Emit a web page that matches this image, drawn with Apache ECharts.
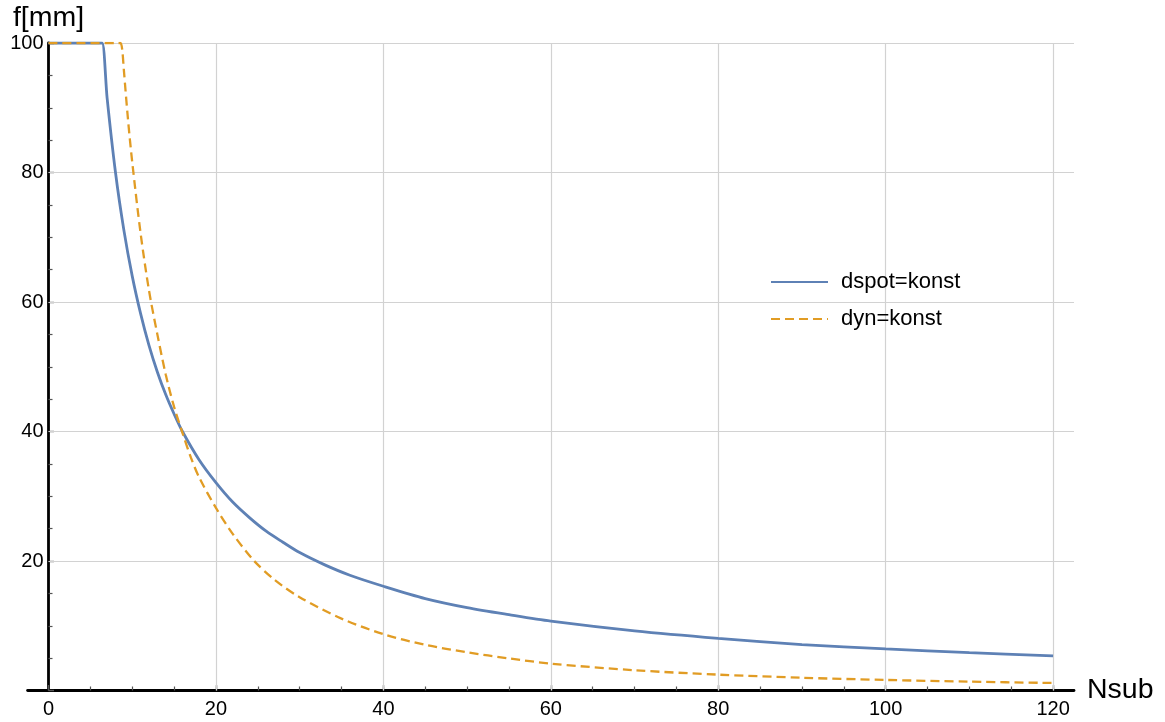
<!DOCTYPE html>
<html>
<head>
<meta charset="utf-8">
<script src="https://cdn.jsdelivr.net/npm/echarts@6/dist/echarts.min.js"></script>
<style>
  html, body { margin: 0; padding: 0; background: #ffffff; }
  #chart { width: 1165px; height: 722px; }
</style>
</head>
<body>
<div id="chart"></div>
<script>
// Focal length f [mm] against number of sub-apertures Nsub
const dspotN = [0, 6.0, 6.4, 7, 8, 9, 10, 11, 12, 13, 14, 15, 16, 18, 20, 22, 24, 26, 28, 30, 33, 36, 40, 45, 50, 55, 60, 70, 80, 90, 100, 110, 120];
const dspotF = [100, 100, 100, 91.5, 80, 71.1, 64, 58.2, 53.3, 49.2, 45.7, 42.7, 40, 35.6, 32.1, 29.1, 26.7, 24.6, 22.9, 21.3, 19.4, 17.8, 16.1, 14.2, 12.8, 11.7, 10.7, 9.2, 8.05, 7.1, 6.42, 5.85, 5.35];

const dynN = [0, 8.3, 8.6, 8.8, 9, 9.5, 10, 11, 12, 13, 14, 15, 16, 17, 18, 20, 22, 24.5, 27, 30, 35, 40, 45, 50, 55, 60, 70, 80, 90, 100, 110, 120];
const dynF = [100, 100, 100, 99, 95.8, 88.1, 81.6, 70.6, 61.8, 55, 48.8, 43.8, 39.8, 36.0, 32.9, 28.2, 24.2, 20.1, 17.1, 14.4, 11.1, 8.7, 7.05, 5.9, 4.96, 4.15, 3.13, 2.45, 1.97, 1.63, 1.37, 1.16];

const seriesNames = ['dspot=konst', 'dyn=konst'];

// axis ranges and tick positions
const xMin = -2.5, xMax = 122.5;
const yMin = 0, yMax = 100;
const xMajorTicks = [0, 20, 40, 60, 80, 100, 120];
const xMinorTicks = [0, 5, 10, 15, 20, 25, 30, 35, 40, 45, 50, 55, 60, 65, 70, 75, 80, 85, 90, 95, 100, 105, 110, 115, 120];
const yGridValues = [20, 40, 60, 80, 100];
const xGridValues = [20, 40, 60, 80, 100, 120];

const FONT = 'Liberation Sans, Arial, Helvetica, sans-serif';
const BLUE = '#5E81B5';
const ORANGE = '#E19C24';
const GRID = '#d2d2d2';

const toPairs = (xs, ys) => xs.map((x, i) => [x, ys[i]]);

const gridLines = [
  ...xGridValues.map(v => [{ coord: [v, yMin] }, { coord: [v, yMax] }]),
  ...yGridValues.map(v => [{ coord: [0, v] }, { coord: [xMax, v] }])
];

const chart = echarts.init(document.getElementById('chart'), null, { renderer: 'canvas' });

chart.setOption({
  animation: false,
  backgroundColor: '#ffffff',
  textStyle: { fontFamily: FONT },
  grid: { left: 27.6, right: 91, top: 43, bottom: 31.5, containLabel: false, outerBoundsMode: 'none' },
  legend: {
    orient: 'vertical',
    left: 770,
    top: 270,
    padding: 0,
    itemWidth: 57,
    itemHeight: 14,
    itemGap: 13,
    selectedMode: false,
    data: seriesNames,
    itemStyle: { opacity: 0 },
    textStyle: { fontSize: 22, color: '#000', fontFamily: FONT, lineHeight: 24, padding: [0, 0, 0, 8] }
  },
  xAxis: [
    {
      type: 'value',
      min: xMin,
      max: xMax,
      name: 'Nsub',
      nameLocation: 'end',
      nameGap: 13,
      nameTextStyle: { fontSize: 28.5, color: '#000', fontFamily: FONT, verticalAlign: 'middle' },
      axisLine: { show: true, onZero: true, lineStyle: { color: '#000', width: 2.8 } },
      axisTick: { show: true, inside: true, length: 4, customValues: xMinorTicks, lineStyle: { color: '#555', width: 1.2 } },
      axisLabel: { show: true, customValues: xMajorTicks, fontSize: 20, color: '#000', margin: 9, fontFamily: FONT },
      splitLine: { show: false },
      minorTick: { show: false }
    },
    {
      type: 'value',
      min: xMin,
      max: xMax,
      position: 'bottom',
      axisLine: { show: false, onZero: false },
      axisTick: { show: true, inside: true, length: 5.5, customValues: xMajorTicks, lineStyle: { color: '#555', width: 1.4 } },
      axisLabel: { show: false },
      splitLine: { show: false }
    }
  ],
  yAxis: {
    type: 'value',
    min: yMin,
    max: yMax,
    interval: 20,
    position: 'left',
    offset: -20.9,
    name: 'f[mm]',
    nameLocation: 'end',
    nameGap: 22,
    nameTextStyle: { fontSize: 28.5, color: '#000', fontFamily: FONT, align: 'center', verticalAlign: 'middle' },
    axisLine: { show: true, onZero: false, lineStyle: { color: '#000', width: 2.8 } },
    axisTick: { show: true, inside: true, length: 5.5, lineStyle: { color: '#555', width: 1.4 } },
    minorTick: { show: true, splitNumber: 4, length: 4, lineStyle: { color: '#555', width: 1.2 } },
    axisLabel: { show: true, customValues: yGridValues, fontSize: 20, color: '#000', margin: 5, fontFamily: FONT },
    splitLine: { show: false }
  },
  series: [
    {
      name: seriesNames[0],
      type: 'line',
      xAxisIndex: 0,
      data: toPairs(dspotN, dspotF),
      symbol: 'none',
      smooth: 0.3,
      z: 3,
      lineStyle: { color: BLUE, width: 2.8 },
      itemStyle: { color: BLUE },
      markLine: {
        silent: true,
        z: 1,
        symbol: ['none', 'none'],
        label: { show: false },
        emphasis: { disabled: true },
        animation: false,
        lineStyle: { color: GRID, width: 1.2, type: 'solid' },
        data: gridLines
      }
    },
    {
      name: seriesNames[1],
      type: 'line',
      xAxisIndex: 0,
      data: toPairs(dynN, dynF),
      symbol: 'none',
      smooth: 0.3,
      z: 4,
      lineStyle: { color: ORANGE, width: 2.3, type: [9, 5] },
      itemStyle: { color: ORANGE }
    }
  ]
});
</script>
</body>
</html>
